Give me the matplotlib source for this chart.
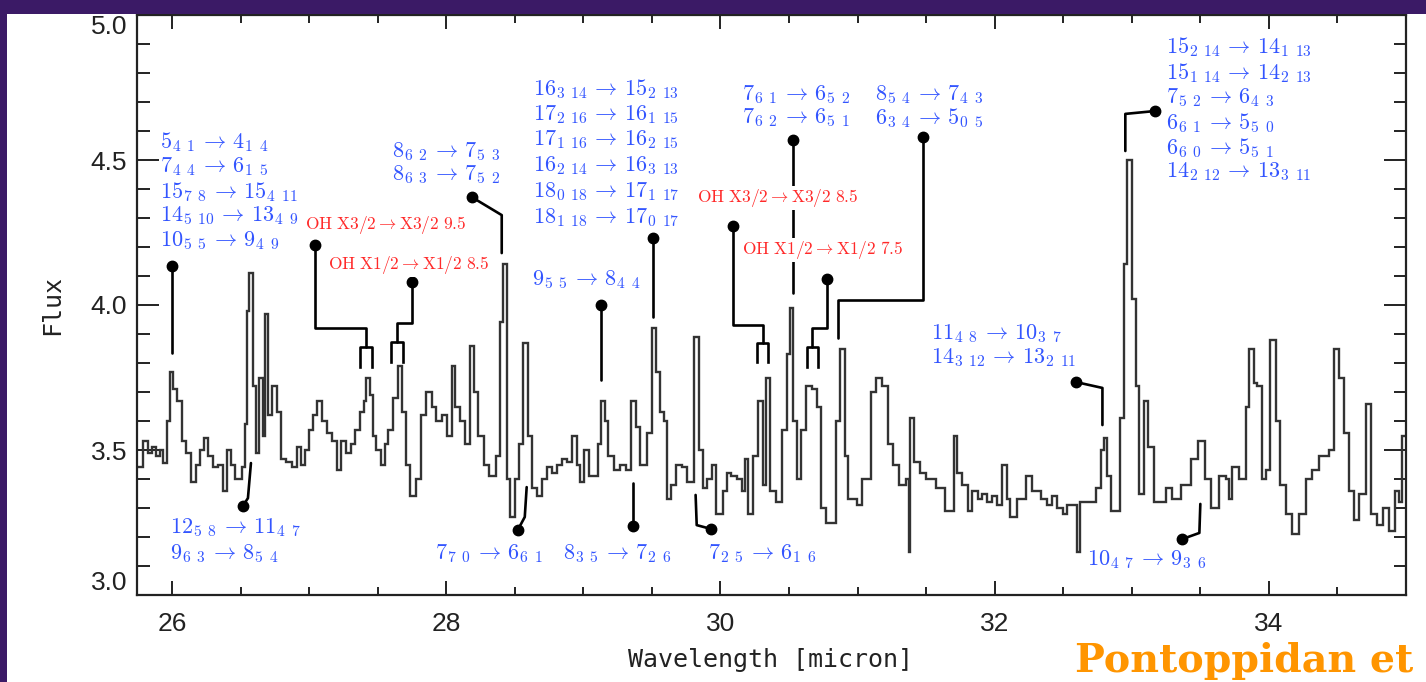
import matplotlib
matplotlib.use("Agg")
import matplotlib.pyplot as plt
from matplotlib.ticker import MultipleLocator
from matplotlib.patches import Rectangle

plt.rcParams['mathtext.fontset'] = 'cm'

# ---------------- data ----------------
wavelength_edges = [
    25.745, 25.789, 25.825, 25.854, 25.883, 25.913, 25.934, 25.964, 25.985, 26.007,
    26.036, 26.073, 26.102, 26.138, 26.175, 26.204, 26.233, 26.262, 26.299, 26.335,
    26.372, 26.401, 26.430, 26.459, 26.510, 26.532, 26.547, 26.561, 26.590, 26.612,
    26.634, 26.663, 26.678, 26.700, 26.729, 26.765, 26.794, 26.831, 26.875, 26.911,
    26.940, 26.969, 26.999, 27.028, 27.057, 27.093, 27.130, 27.166, 27.203, 27.232,
    27.268, 27.305, 27.334, 27.370, 27.399, 27.414, 27.443, 27.465, 27.487, 27.523,
    27.552, 27.574, 27.611, 27.647, 27.676, 27.706, 27.735, 27.778, 27.815, 27.851,
    27.895, 27.924, 27.968, 28.004, 28.041, 28.063, 28.099, 28.136, 28.172, 28.201,
    28.230, 28.274, 28.310, 28.362, 28.391, 28.413, 28.442, 28.464, 28.500, 28.529,
    28.558, 28.595, 28.624, 28.660, 28.697, 28.733, 28.770, 28.806, 28.843, 28.879,
    28.915, 28.952, 28.974, 29.003, 29.039, 29.105, 29.127, 29.156, 29.178, 29.222,
    29.265, 29.309, 29.345, 29.382, 29.411, 29.462, 29.499, 29.528, 29.557, 29.586,
    29.608, 29.637, 29.673, 29.717, 29.754, 29.805, 29.841, 29.870, 29.899, 29.936,
    29.965, 30.016, 30.045, 30.074, 30.118, 30.155, 30.176, 30.198, 30.235, 30.271,
    30.308, 30.329, 30.359, 30.402, 30.446, 30.482, 30.504, 30.526, 30.555, 30.585,
    30.621, 30.665, 30.701, 30.730, 30.767, 30.840, 30.869, 30.905, 30.927, 30.993,
    31.029, 31.095, 31.131, 31.175, 31.219, 31.255, 31.306, 31.350, 31.372, 31.386,
    31.415, 31.452, 31.496, 31.569, 31.641, 31.700, 31.729, 31.765, 31.802, 31.838,
    31.875, 31.911, 31.947, 31.984, 32.020, 32.050, 32.093, 32.115, 32.166, 32.232,
    32.276, 32.341, 32.380, 32.420, 32.458, 32.495, 32.531, 32.603, 32.625, 32.742,
    32.778, 32.800, 32.822, 32.851, 32.917, 32.946, 32.968, 33.004, 33.033, 33.055,
    33.092, 33.121, 33.165, 33.252, 33.296, 33.362, 33.434, 33.485, 33.536, 33.580,
    33.638, 33.690, 33.711, 33.733, 33.784, 33.834, 33.857, 33.893, 33.915, 33.951,
    33.980, 34.010, 34.054, 34.083, 34.127, 34.170, 34.222, 34.273, 34.316, 34.367,
    34.440, 34.477, 34.513, 34.550, 34.586, 34.622, 34.659, 34.710, 34.746, 34.790,
    34.834, 34.878, 34.921, 34.950, 34.972, 35.000,
]

flux = [
    3.44, 3.53, 3.49, 3.51, 3.48, 3.50, 3.455, 3.60, 3.77, 3.71,
    3.67, 3.53, 3.49, 3.39, 3.45, 3.50, 3.54, 3.48, 3.44, 3.45,
    3.36, 3.50, 3.45, 3.40, 3.44, 3.59, 3.98, 4.11, 3.72, 3.49,
    3.75, 3.55, 3.97, 3.62, 3.72, 3.63, 3.47, 3.46, 3.44, 3.51,
    3.45, 3.50, 3.57, 3.62, 3.67, 3.60, 3.56, 3.53, 3.43, 3.53,
    3.49, 3.52, 3.57, 3.63, 3.67, 3.75, 3.69, 3.55, 3.50, 3.45,
    3.52, 3.57, 3.68, 3.79, 3.63, 3.45, 3.34, 3.40, 3.62, 3.70,
    3.65, 3.60, 3.62, 3.55, 3.79, 3.65, 3.60, 3.52, 3.86, 3.70,
    3.55, 3.45, 3.41, 3.48, 3.94, 4.14, 3.40, 3.27, 3.40, 3.52,
    3.87, 3.55, 3.37, 3.34, 3.40, 3.44, 3.42, 3.45, 3.47, 3.46,
    3.55, 3.45, 3.39, 3.50, 3.41, 3.52, 3.67, 3.60, 3.48, 3.43,
    3.45, 3.43, 3.67, 3.58, 3.45, 3.56, 3.92, 3.77, 3.63, 3.60,
    3.33, 3.38, 3.45, 3.44, 3.39, 3.89, 3.50, 3.37, 3.40, 3.45,
    3.28, 3.36, 3.42, 3.41, 3.40, 3.36, 3.47, 3.28, 3.48, 3.67,
    3.38, 3.75, 3.36, 3.32, 3.57, 3.83, 3.99, 3.60, 3.40, 3.57,
    3.72, 3.71, 3.65, 3.30, 3.25, 3.60, 3.85, 3.48, 3.33, 3.31,
    3.40, 3.70, 3.75, 3.72, 3.52, 3.45, 3.38, 3.40, 3.15, 3.61,
    3.46, 3.42, 3.40, 3.37, 3.29, 3.55, 3.42, 3.38, 3.29, 3.36,
    3.33, 3.35, 3.32, 3.34, 3.31, 3.45, 3.33, 3.27, 3.33, 3.41,
    3.36, 3.33, 3.31, 3.34, 3.30, 3.28, 3.31, 3.15, 3.32, 3.37,
    3.50, 3.54, 3.41, 3.29, 3.61, 4.14, 4.50, 4.02, 3.72, 3.35,
    3.67, 3.51, 3.32, 3.37, 3.33, 3.38, 3.47, 3.53, 3.40, 3.30,
    3.41, 3.40, 3.33, 3.44, 3.40, 3.65, 3.85, 3.73, 3.72, 3.40,
    3.43, 3.88, 3.60, 3.38, 3.28, 3.21, 3.28, 3.40, 3.43, 3.48,
    3.50, 3.85, 3.75, 3.56, 3.36, 3.26, 3.35, 3.66, 3.28, 3.24,
    3.30, 3.22, 3.36, 3.32, 3.55,
]

x_ticks_major = [26, 28, 30, 32, 34]
y_ticks_major = [3.0, 3.5, 4.0, 4.5, 5.0]

x_label = "Wavelength [micron]"
y_label = "Flux"
credit = "Pontoppidan et"

# line identifications (text lines); G = gap inside subscripts, A = arrow
G = r"\ \,"
A = r"\,\rightarrow\,"
def ident(up, ku1, ku2, lo, kl1, kl2):
    return rf"${up}_{{{ku1}{G}{ku2}}}{A}{lo}_{{{kl1}{G}{kl2}}}$"

lab_A = [ident(5, 4, 1, 4, 1, 4), ident(7, 4, 4, 6, 1, 5), ident(15, 7, 8, 15, 4, 11),
         ident(14, 5, 10, 13, 4, 9), ident(10, 5, 5, 9, 4, 9)]
lab_B = [ident(12, 5, 8, 11, 4, 7), ident(9, 6, 3, 8, 5, 4)]
lab_C = [ident(8, 6, 2, 7, 5, 3), ident(8, 6, 3, 7, 5, 2)]
lab_D = [r"$\mathrm{OH\ X3/2\rightarrow X3/2\ 9.5}$"]
lab_E = [r"$\mathrm{OH\ X1/2\rightarrow X1/2\ 8.5}$"]
lab_F = [ident(16, 3, 14, 15, 2, 13), ident(17, 2, 16, 16, 1, 15), ident(17, 1, 16, 16, 2, 15),
         ident(16, 2, 14, 16, 3, 13), ident(18, 0, 18, 17, 1, 17), ident(18, 1, 18, 17, 0, 17)]
lab_G = [ident(9, 5, 5, 8, 4, 4)]
lab_H = [ident(7, 7, 0, 6, 6, 1)]
lab_I = [ident(8, 3, 5, 7, 2, 6)]
lab_J = [ident(7, 2, 5, 6, 1, 6)]
lab_K = [r"$\mathrm{OH\ X3/2\rightarrow X3/2\ 8.5}$"]
lab_L = [ident(7, 6, 1, 6, 5, 2), ident(7, 6, 2, 6, 5, 1)]
lab_M = [r"$\mathrm{OH\ X1/2\rightarrow X1/2\ 7.5}$"]
lab_N = [ident(8, 5, 4, 7, 4, 3), ident(6, 3, 4, 5, 0, 5)]
lab_O = [ident(11, 4, 8, 10, 3, 7), ident(14, 3, 12, 13, 2, 11)]
lab_P = [ident(10, 4, 7, 9, 3, 6)]
lab_Q = [ident(15, 2, 14, 14, 1, 13), ident(15, 1, 14, 14, 2, 13), ident(7, 5, 2, 6, 4, 3),
         ident(6, 6, 1, 5, 5, 0), ident(6, 6, 0, 5, 5, 1), ident(14, 2, 12, 13, 3, 11)]

# ---------------- layout of annotations (positions in data units) ----------------
BLUE = '#3355ff'
RED = '#ff2a2a'
# (labels, colour, text x, text y of each line, leader path starting at the dot, fork)
annotations = [
    (lab_A, BLUE, 25.913, [4.562, 4.476, 4.390, 4.307, 4.221],
     [(26.00, 4.134), (26.00, 3.834)], None),
    (lab_B, BLUE, 25.985, [3.234, 3.141],
     [(26.517, 3.307), (26.554, 3.334), (26.576, 3.455)], None),
    (lab_C, BLUE, 27.603, [4.528, 4.448],
     [(28.187, 4.372), (28.405, 4.310), (28.405, 4.179)], None),
    (lab_D, RED, 26.969, [4.276],
     [(27.042, 4.207), (27.042, 3.921), (27.414, 3.921), (27.414, 3.855)],
     (27.370, 27.458, 3.855, 3.786)),
    (lab_E, RED, 27.137, [4.138],
     [(27.749, 4.079), (27.749, 3.938), (27.640, 3.938), (27.640, 3.872)],
     (27.596, 27.684, 3.872, 3.803)),
    (lab_F, BLUE, 28.631, [4.745, 4.655, 4.569, 4.479, 4.390, 4.300],
     [(29.506, 4.231), (29.506, 3.959)], None),
    (lab_G, BLUE, 28.624, [4.086],
     [(29.127, 4.00), (29.127, 3.741)], None),
    (lab_H, BLUE, 27.917, [3.141],
     [(28.522, 3.224), (28.573, 3.269), (28.587, 3.372)], None),
    (lab_I, BLUE, 28.850, [3.141],
     [(29.360, 3.238), (29.360, 3.386)], None),
    (lab_J, BLUE, 29.907, [3.141],
     [(29.929, 3.228), (29.827, 3.241), (29.819, 3.345)], None),
    (lab_L, BLUE, 30.155, [4.724, 4.645],
     [(30.526, 4.569), (30.526, 4.041)], None),
    (lab_K, RED, 29.827, [4.369],
     [(30.089, 4.272), (30.089, 3.931), (30.308, 3.931), (30.308, 3.869)],
     (30.264, 30.344, 3.869, 3.803)),
    (lab_M, RED, 30.155, [4.190],
     [(30.774, 4.090), (30.774, 3.921), (30.665, 3.921), (30.665, 3.855)],
     (30.628, 30.708, 3.855, 3.786)),
    (lab_N, BLUE, 31.124, [4.724, 4.645],
     [(31.481, 4.579), (31.481, 4.017), (30.854, 4.017), (30.854, 3.886)], None),
    (lab_O, BLUE, 31.539, [3.903, 3.817],
     [(32.596, 3.734), (32.786, 3.714), (32.786, 3.586)], None),
    (lab_P, BLUE, 32.676, [3.121],
     [(33.369, 3.193), (33.493, 3.214), (33.500, 3.314)], None),
    (lab_Q, BLUE, 33.252, [4.890, 4.800, 4.714, 4.628, 4.541, 4.459],
     [(33.172, 4.669), (32.953, 4.659), (32.953, 4.531)], None),
]

# ---------------- figure ----------------
W, H = 1426, 682
fig = plt.figure(figsize=(W / 100, H / 100), dpi=100)
fig.patch.set_facecolor('white')
ax = fig.add_axes([137 / W, 1 - 595 / H, (1406 - 137) / W, (595 - 15) / H])

ax.stairs(flux, wavelength_edges, baseline=None, color='#333333', lw=1.7, zorder=2)

ax.set_xlim(25.745, 35.0)
ax.set_ylim(3.0, 5.0)
ax.set_xticks(x_ticks_major)
ax.set_yticks(y_ticks_major)
ax.xaxis.set_minor_locator(MultipleLocator(0.5))
ax.yaxis.set_minor_locator(MultipleLocator(0.1))
ax.set_yticklabels([f"{v:.1f}" for v in y_ticks_major])
ax.set_xticklabels([f"{v:d}" for v in x_ticks_major])

for sp in ax.spines.values():
    sp.set_linewidth(1.6)
    sp.set_color('#222222')
ax.tick_params(which='both', direction='in', top=True, right=True,
               width=1.4, color='#222222', labelcolor='#222222')
ax.tick_params(axis='x', which='major', length=10, pad=12)
ax.tick_params(axis='x', which='minor', length=6)
ax.tick_params(axis='y', which='major', length=16, pad=7)
ax.tick_params(axis='y', which='minor', length=9)
for lab in ax.get_xticklabels() + ax.get_yticklabels():
    lab.set_fontfamily('Liberation Sans')
    lab.set_fontsize(19)
# end labels of the y axis are kept inside the frame
yt = ax.yaxis.get_major_ticks()
yt[0].label1.set_verticalalignment('bottom')
yt[-1].label1.set_verticalalignment('top')

fig.text(771 / W, 1 - 660 / H, x_label, ha='center', va='center',
         fontsize=18, family='DejaVu Sans Mono', color='#222222')
fig.text(52 / W, 1 - 305 / H, y_label, ha='center', va='center', rotation=90,
         fontsize=18, family='DejaVu Sans Mono', color='#222222')

# annotations
for labels, col, tx, tys, path, fork in annotations:
    xs = [p[0] for p in path]
    ys = [p[1] for p in path]
    ax.plot(xs, ys, color='black', lw=1.9, solid_capstyle='round',
            solid_joinstyle='round', zorder=3)
    ax.plot(xs[0], ys[0], 'o', color='black', ms=7.5, zorder=4)
    if fork is not None:
        fx0, fx1, fy_top, fy_bot = fork
        ax.plot([fx0, fx0, fx1, fx1], [fy_bot, fy_top, fy_top, fy_bot],
                color='black', lw=1.9, solid_joinstyle='round', zorder=3)
    is_red = col == RED
    for s, ty in zip(labels, tys):
        kw = dict(color=col, ha='left', va='center',
                  fontsize=12.5 if is_red else 16, zorder=5)
        if is_red:
            kw['bbox'] = dict(facecolor='white', edgecolor='none', pad=1.0)
        ax.text(tx, ty, s, **kw)

# credit text and frame
fig.text(1075 / W, 1 - 672 / H, credit, ha='left', va='baseline',
         fontsize=28.5, fontweight='bold', family='DejaVu Serif', color='#ff9500')
purple = '#3b1a66'
fig.patches.append(Rectangle((0, 1 - 14 / H), 1, 14 / H, transform=fig.transFigure,
                             facecolor=purple, edgecolor='none', zorder=10))
fig.patches.append(Rectangle((0, 0), 7 / W, 1, transform=fig.transFigure,
                             facecolor=purple, edgecolor='none', zorder=10))

fig.savefig('out.png', dpi=100)
